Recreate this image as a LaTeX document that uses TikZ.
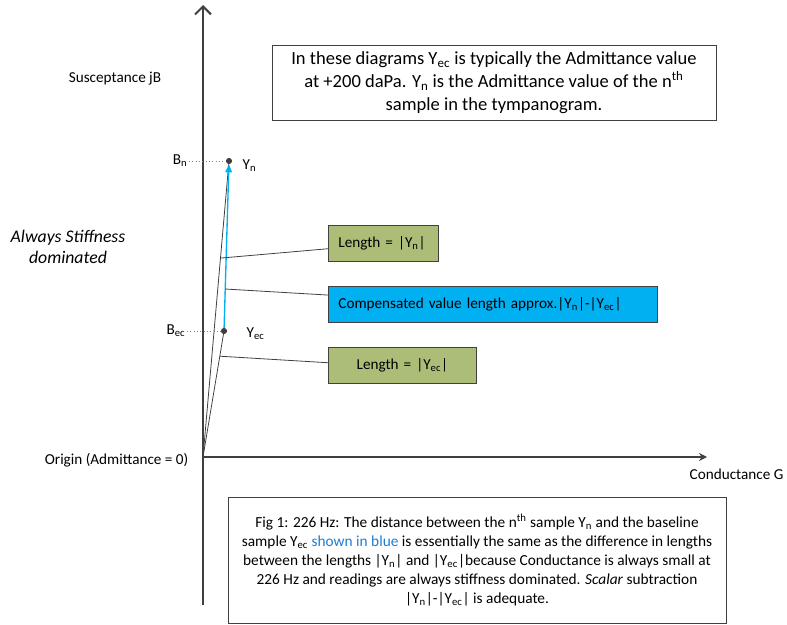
\documentclass[tikz,border=0pt]{standalone}
\usepackage{fontspec}
\setmainfont{Carlito}
\usepackage{xcolor}
\usetikzlibrary{arrows.meta,calc,positioning}
\definecolor{axisgray}{RGB}{64,64,64}
\definecolor{boxgreen}{RGB}{172,189,120}
\definecolor{boxblue}{RGB}{0,176,240}
\definecolor{textblue}{RGB}{30,125,205}
\newcommand{\Yn}{Y\textsubscript{n}}
\newcommand{\Yec}{Y\textsubscript{ec}}

\begin{document}
\begin{tikzpicture}[x=0.75pt,y=-0.75pt,font=\fontsize{11.4}{13.8}\selectfont,
    axis/.style={line width=1.5pt,draw=axisgray},
    leader/.style={line width=0.6pt,draw=axisgray},
    guide/.style={dotted,draw=gray,line width=0.5pt},
    lenbox/.style={draw=axisgray,fill=boxgreen,line width=0.6pt,minimum height=27pt,
        inner ysep=0pt,inner xsep=7.5pt,anchor=north west},
    notebox/.style={draw=axisgray,line width=0.6pt,align=center,inner sep=0pt}]
                \useasboundingbox (0,0) rectangle (787,624);
                \coordinate (O) at (203,457);
                \coordinate (ytop) at (203,5);
                \coordinate (ybot) at (203,605);
                \coordinate (xend) at (707,457);
                \coordinate (Yn) at (229,161);
                \coordinate (Yec) at (224,331);
                %Axis
                \draw[axis,-{Straight Barb[length=6pt,width=12pt]}] (ybot) -- (ytop);
                \draw[axis,-{Stealth[length=6pt,width=6pt]}] (O) -- (xend);
                \node (ylab) at (115,79) {Susceptance jB};
                \node[anchor=east] (olab) at (193,460) {Origin (Admittance = 0)};
                \node[anchor=west] (xlab) at (685,474) {Conductance G};
                \node[align=center,font=\fontsize{13.3}{15.8}\selectfont\itshape] (stiff) at (68,247) {Always Stiffness\\dominated};
                %Note boxes
                \node[notebox,minimum width=333pt,minimum height=56.25pt,font=\fontsize{13.9}{17.25}\selectfont] (topnote) at (494,82.5)
                    {In these diagrams \Yec{} is typically the Admittance value\\
                     at +200 daPa. \Yn{} is the Admittance value of the n\textsuperscript{th}\\
                     sample in the tympanogram.};
                \node[notebox,minimum width=373.5pt,minimum height=94.5pt,font=\fontsize{11.5}{14.25}\selectfont] (fignote) at (477,560)
                    {Fig 1: 226 Hz: The distance between the n\textsuperscript{th} sample \Yn{} and the baseline\\
                     sample \Yec{} \textcolor{textblue}{shown in blue} is essentially the same as the difference in lengths\\
                     between the lengths |\Yn| and |\Yec|because Conductance is always small at\\
                     226 Hz and readings are always stiffness dominated. \textit{Scalar} subtraction\\
                     |\Yn|-|\Yec| is adequate.};
                %Length boxes
                \node[lenbox,text width=67.5pt,align=left] (lenYn) at (328,225) {Length = |\Yn|};
                \node[lenbox,fill=boxblue,text width=231.75pt,align=left] (comp) at (328,286) {Compensated value length approx.|\Yn|-|\Yec|};
                \node[lenbox,text width=96pt,align=center] (lenYec) at (328,347) {Length = |\Yec|};
                %Vectors
                \draw[leader] (O) -- (Yn);
                \draw[leader] (O) -- (Yec);
                \draw[boxblue,line width=1pt,-{Triangle[length=6pt,width=5pt]},shorten >=2.5pt] (Yec) -- (Yn);
                %Susceptance marks
                \node[anchor=east,inner sep=1pt] (Bn) at (189,161) {B\textsubscript{n}};
                \node[anchor=east,inner sep=1pt] (Bec) at (187,331) {B\textsubscript{ec}};
                \draw[guide] (Bn.east) -- (Yn);
                \draw[guide] (Bec.east) -- (Yec);
                \node[anchor=west] (Ynlab) at (238,166) {\Yn};
                \node[anchor=west] (Yeclab) at (242,334) {\Yec};
                %Leaders to boxes
                \coordinate (c1) at ($(O)!0.672!(Yn)$);
                \coordinate (c2) at ($(Yec)!0.247!(Yn)$);
                \coordinate (c3) at ($(O)!0.80!(Yec)$);
                \draw[leader] (c1) -- ([yshift=-4pt]lenYn.west);
                \draw[leader] (c2) -- ([yshift=7pt]comp.west);
                \draw[leader] (c3) -- ([yshift=2pt]lenYec.west);
                %Draw points
                \fill[axisgray] (Yn) circle (2.3pt);
                \fill[axisgray] (Yec) circle (2.3pt);
            \end{tikzpicture}
\end{document}
